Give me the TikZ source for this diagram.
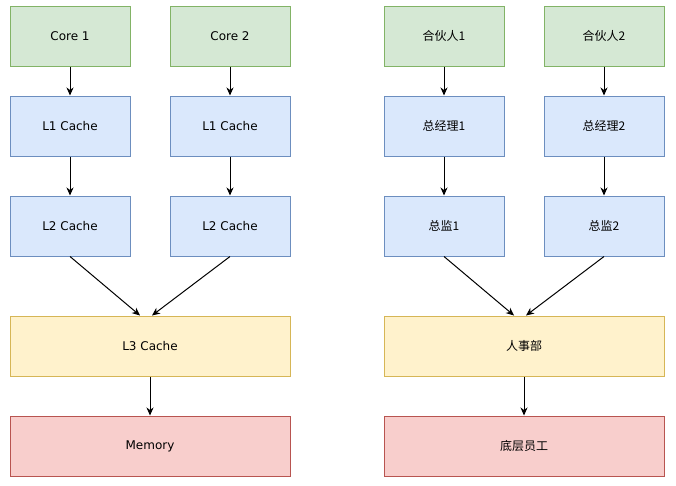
\documentclass[tikz,border=0pt]{standalone}
\usepackage{fontspec}
\setmainfont{DejaVu Sans}
\newfontfamily\cjk{Noto Sans CJK SC}
\usetikzlibrary{arrows.meta}

\definecolor{greenfill}{HTML}{D5E8D4}
\definecolor{greenline}{HTML}{82B366}
\definecolor{bluefill}{HTML}{DAE8FC}
\definecolor{blueline}{HTML}{6C8EBF}
\definecolor{yellowfill}{HTML}{FFF2CC}
\definecolor{yellowline}{HTML}{D6B656}
\definecolor{redfill}{HTML}{F8CECC}
\definecolor{redline}{HTML}{B85450}

\tikzset{
  box/.style={draw, line width=1pt, minimum width=120pt, minimum height=60pt,
              inner sep=0pt, font=\fontsize{12}{14}\selectfont},
  wide/.style={box, minimum width=280pt},
  core/.style={box, fill=greenfill, draw=greenline},
  cache/.style={box, fill=bluefill, draw=blueline},
  shared/.style={wide, fill=yellowfill, draw=yellowline},
  mem/.style={wide, fill=redfill, draw=redline},
  link/.style={-{Stealth[length=8pt,width=7pt,inset=2.5pt]}, line width=1pt}
}

\begin{document}
\begin{tikzpicture}[x=1pt,y=-1pt]
\useasboundingbox (0,0) rectangle (676,485);

% CPU side
\node[core]   (core1) at (70,36)   {Core 1};
\node[core]   (core2) at (230,36)  {Core 2};
\node[cache]  (l1a)   at (70,126)  {L1 Cache};
\node[cache]  (l1b)   at (230,126) {L1 Cache};
\node[cache]  (l2a)   at (70,226)  {L2 Cache};
\node[cache]  (l2b)   at (230,226) {L2 Cache};
\node[shared] (l3)    at (150,346) {L3 Cache};
\node[mem]    (mem)   at (150,446) {Memory};

\draw[link] (core1) -- (l1a);
\draw[link] (core2) -- (l1b);
\draw[link] (l1a) -- (l2a);
\draw[link] (l1b) -- (l2b);
\draw[link] (l2a.south) -- ([xshift=-10pt]l3.north);
\draw[link] (l2b.south) -- ([xshift=2pt]l3.north);
\draw[link] (l3) -- (mem);

% company side
\node[core]   (boss1) at (444,36)  {\cjk 合伙人1};
\node[core]   (boss2) at (604,36)  {\cjk 合伙人2};
\node[cache]  (gm1)   at (444,126) {\cjk 总经理1};
\node[cache]  (gm2)   at (604,126) {\cjk 总经理2};
\node[cache]  (dir1)  at (444,226) {\cjk 总监1};
\node[cache]  (dir2)  at (604,226) {\cjk 总监2};
\node[shared] (hr)    at (524,346) {\cjk 人事部};
\node[mem]    (staff) at (524,446) {\cjk 底层员工};

\draw[link] (boss1) -- (gm1);
\draw[link] (boss2) -- (gm2);
\draw[link] (gm1) -- (dir1);
\draw[link] (gm2) -- (dir2);
\draw[link] (dir1.south) -- ([xshift=-10pt]hr.north);
\draw[link] (dir2.south) -- ([xshift=2pt]hr.north);
\draw[link] (hr) -- (staff);
\end{tikzpicture}
\end{document}
